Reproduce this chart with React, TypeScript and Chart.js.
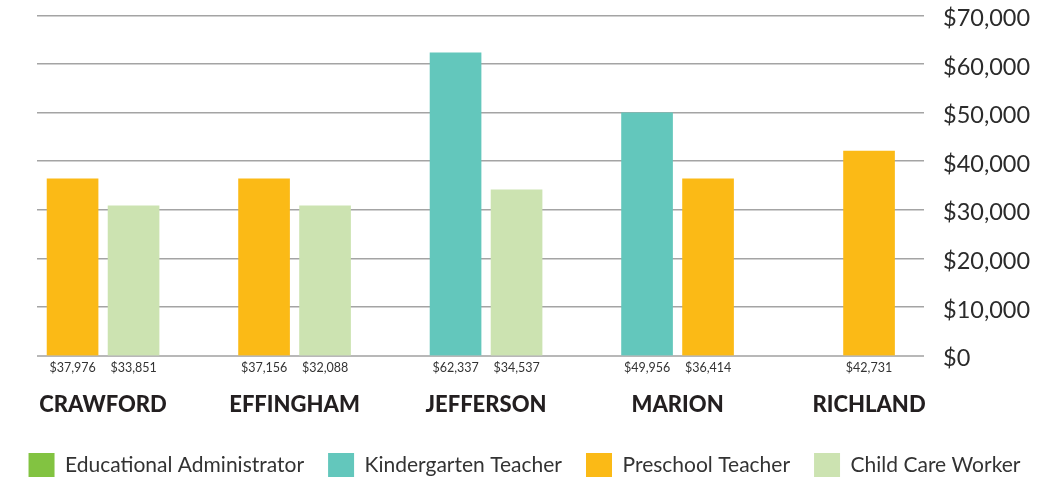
import React, { useEffect, useRef } from "react";
import { Chart, registerables } from "chart.js";

Chart.register(...registerables);

// ---- Data ----
const categories = ["CRAWFORD", "EFFINGHAM", "JEFFERSON", "MARION", "RICHLAND"];
const seriesNames = [
  "Educational Administrator",
  "Kindergarten Teacher",
  "Preschool Teacher",
  "Child Care Worker",
];
// bar heights as drawn in the reference
const eduAdminValues: (number | null)[] = [null, null, null, null, null];
const kindergartenValues: (number | null)[] = [null, null, 62300, 49950, null];
const preschoolValues: (number | null)[] = [36350, 36350, null, 36350, 42100];
const childCareValues: (number | null)[] = [30800, 30800, 34100, null, null];
// printed value labels under the bars
const eduAdminLabels = ["", "", "", "", ""];
const kindergartenLabels = ["", "", "$62,337", "$49,956", ""];
const preschoolLabels = ["$37,976", "$37,156", "", "$36,414", "$42,731"];
const childCareLabels = ["$33,851", "$32,088", "$34,537", "", ""];
const yTickValues = [0, 10000, 20000, 30000, 40000, 50000, 60000, 70000];

const colors = ["#82C341", "#63C7BC", "#FBBA16", "#CCE3B1"];

const allValues = [eduAdminValues, kindergartenValues, preschoolValues, childCareValues];
const allLabels = [eduAdminLabels, kindergartenLabels, preschoolLabels, childCareLabels];

const valueLabelPlugin = {
  id: "valueLabels",
  afterDatasetsDraw(chart: any) {
    const { ctx, chartArea } = chart;
    ctx.save();
    ctx.font = "12.5px Lato";
    ctx.fillStyle = "#333333";
    ctx.textAlign = "center";
    ctx.textBaseline = "middle";
    chart.data.datasets.forEach((ds: any, d: number) => {
      const meta = chart.getDatasetMeta(d);
      meta.data.forEach((el: any, i: number) => {
        const v = allValues[d][i];
        const txt = allLabels[d][i];
        if (v === null || !txt) return;
        ctx.fillText(txt, el.x, chartArea.bottom + 12.5);
      });
    });
    ctx.restore();
  },
};

export default function App() {
  const ref = useRef<HTMLCanvasElement | null>(null);
  useEffect(() => {
    if (!ref.current) return;
    const chart = new Chart(ref.current, {
      type: "bar",
      data: {
        datasets: seriesNames.map((name, d) => ({
          label: name,
          data: allValues[d].map((v, i) => ({ x: i, y: v })),
          backgroundColor: colors[d],
          borderWidth: 0,
          skipNull: true,
          barThickness: 61,
          maxBarThickness: 51,
        })),
      },
      options: {
        animation: false,
        responsive: true,
        maintainAspectRatio: false,
        layout: { padding: { top: 15.5, bottom: -10, left: 0, right: 0 } },
        plugins: {
          tooltip: { enabled: false },
          legend: {
            position: "bottom",
            labels: {
              font: { family: "Lato", size: 21 },
              color: "#333333",
              boxWidth: 26,
              boxHeight: 24,
              padding: 24,
            },
          },
        },
        scales: {
          x: {
            type: "linear",
            offset: false,
            min: -0.345,
            max: 4.287,
            grid: { display: false, drawTicks: false },
            border: { display: false },
            afterBuildTicks: (scale: any) => {
              scale.ticks = categories.map((_, i) => ({ value: i }));
            },
            afterFit: (scale: any) => {
              scale.height = 73.5;
            },
            ticks: {
              autoSkip: false,
              maxRotation: 0,
              padding: 36.5,
              color: "#231F20",
              font: { family: "Lato", size: 22, weight: "900", lineHeight: 1.2 },
              callback: (v: any) => categories[Math.round(Number(v))] ?? "",
            },
          },
          yLeft: {
            type: "linear",
            position: "left",
            display: true,
            grid: { display: false, drawTicks: false },
            border: { display: false },
            ticks: { display: false },
            afterFit: (scale: any) => {
              scale.width = 37;
            },
          },
          y: {
            type: "linear",
            position: "right",
            min: 0,
            max: 70000,
            afterBuildTicks: (scale: any) => {
              scale.ticks = yTickValues.map((v) => ({ value: v }));
            },
            afterFit: (scale: any) => {
              scale.width = 125;
            },
            grid: {
              drawTicks: true,
              tickLength: 19,
              tickColor: "rgba(0,0,0,0)",
              color: (c: any) => (c.tick && c.tick.value === 0 ? "#b8b8b8" : "#a4a4a4"),
              lineWidth: (c: any) => (c.tick && c.tick.value === 0 ? 2 : 1.5),
            },
            border: { display: false },
            ticks: {
              padding: 0,
              labelOffset: 3,
              color: "#2b2b2b",
              font: { family: "Lato", size: 23.5, lineHeight: 0.7 },
              callback: (v: any) => "$" + Number(v).toLocaleString("en-US"),
            },
          },
        },
      } as any,
      plugins: [valueLabelPlugin],
    });
    return () => chart.destroy();
  }, []);

  return (
    <div style={{ position: "fixed", left: 0, top: 0, width: 1049, height: 477, background: "#fff" }}>
      <canvas ref={ref} />
    </div>
  );
}
